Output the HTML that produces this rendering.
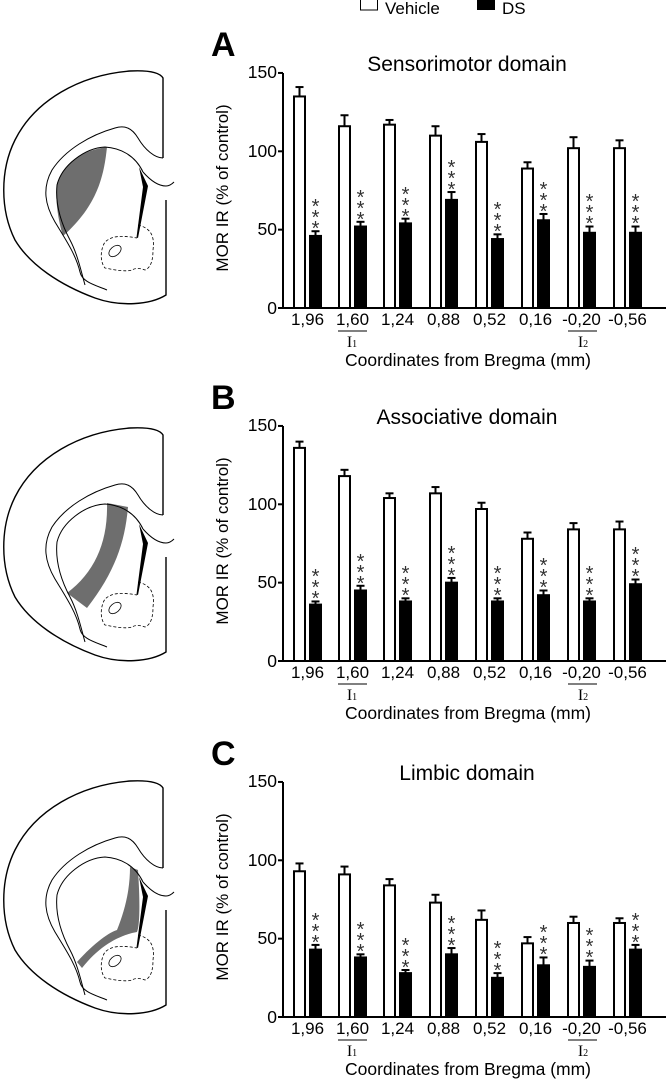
<!DOCTYPE html>
<html><head><meta charset="utf-8"><style>
html,body{margin:0;padding:0;background:#fff}
svg{display:block}
text{font-family:"Liberation Sans",Arial,sans-serif;fill:#000}
.t{font-size:17.5px;text-anchor:end}
.x{font-size:17px;text-anchor:middle}
.ti{font-size:21px;text-anchor:middle}
.L{font-size:34px;font-weight:bold}
.s{font-size:20px;text-anchor:middle;fill:#333}
.r{font-family:"Liberation Serif",serif;font-size:16px;text-anchor:middle}
.c{font-size:17.5px;text-anchor:middle}
</style></head><body>
<svg id="g" width="666" height="1079" viewBox="0 0 666 1079" xmlns="http://www.w3.org/2000/svg">
<defs>
<g id="brain" fill="none" stroke="#000">
<path stroke-width="1.4" d="M166,200 L166,295 C150,305 120,307 95,298 C60,285 30,265 15,240 C0,210 0,170 15,140 C35,100 80,75 130,71 C150,70 160,73 163,78 L163,158"/>
<path stroke-width="1" d="M163,158 C155,158 145,150 138,138 C132,128 125,125 115,128 C90,135 65,150 52,170 C42,188 45,205 55,222 C66,240 76,255 80,272 C82,282 95,285 107,290"/>
<path stroke-width="1" d="M143,172 C150,180 158,186 166,186 C169,186 172,184 174,182"/>
<path stroke-width="1" d="M143,172 C135,155 120,148 105,147 C85,148 62,165 57,185 C55,205 62,225 70,240 C78,255 82,275 85,285"/>
<path fill="#000" stroke="none" d="M139,167 L148,186 L138,238 L136.5,237.5 L143,187 Z"/>
<path stroke-width="0.8" stroke-dasharray="3,2" d="M138,225 C150,228 155,235 153,250 C153,262 150,268 145,270 C140,268 135,268 132,270 C125,272 115,270 105,268 C100,262 100,250 105,242 C112,236 120,235 137,238"/>
<ellipse cx="115" cy="251" rx="7" ry="4.5" stroke-width="0.8" transform="rotate(-40 115 251)"/>
</g>
</defs>
<g><path fill="#6e6e6e" d="M57,183 C65,160 85,150 107,147 C104,175 98,205 63,236 C58,220 55,200 57,183 Z"/><use href="#brain"/></g>
<g transform="translate(0,357)"><path fill="#6e6e6e" d="M107,146 L128,150 C125,185 115,215 87,251 L67,236 C95,215 108,185 107,146 Z"/><use href="#brain"/></g>
<g transform="translate(0,710)"><path fill="#6e6e6e" d="M130,157 L138,160 C140,190 140,215 137,222 C120,225 100,235 82,258 L77,252 C95,232 110,222 117,220 C125,200 130,180 130,157 Z"/><use href="#brain"/></g>

<rect x="360.5" y="-1" width="17" height="11" fill="#fff" stroke="#000" stroke-width="1"/>
<text x="385" y="14" style="font-size:17px">Vehicle</text>
<rect x="477" y="0" width="18" height="10" fill="#000"/>
<text x="502" y="14" style="font-size:17px">DS</text>

<g id="bars"></g>

<text class="L" x="211" y="56">A</text>
<text class="ti" x="467" y="71">Sensorimotor domain</text>
<text class="t" x="277" y="78">150</text><text class="t" x="277" y="157">100</text><text class="t" x="277" y="235">50</text><text class="t" x="277" y="314">0</text>
<text style="font-size:17px" text-anchor="middle" transform="translate(228,188) rotate(-90)">MOR IR (% of control)</text>
<g><text class="x" x="307.5" y="325">1,96</text><text class="x" x="352.5" y="325">1,60</text><text class="x" x="397.5" y="325">1,24</text><text class="x" x="443.5" y="325">0,88</text><text class="x" x="489.5" y="325">0,52</text><text class="x" x="535.5" y="325">0,16</text><text class="x" x="581.5" y="325">-0,20</text><text class="x" x="627.5" y="325">-0,56</text></g>
<text class="r" x="352" y="347">I<tspan font-size="10">1</tspan></text><text class="r" x="583" y="347">I<tspan font-size="10">2</tspan></text>
<text class="c" x="468" y="366">Coordinates from Bregma (mm)</text>
<g transform="translate(0,4)">
<text class="s" x="315.5" y="231">*</text><text class="s" x="315.5" y="220">*</text><text class="s" x="315.5" y="209">*</text>
<text class="s" x="360.5" y="222">*</text><text class="s" x="360.5" y="211">*</text><text class="s" x="360.5" y="200">*</text>
<text class="s" x="405.5" y="219">*</text><text class="s" x="405.5" y="208">*</text><text class="s" x="405.5" y="197">*</text>
<text class="s" x="451.5" y="192">*</text><text class="s" x="451.5" y="181">*</text><text class="s" x="451.5" y="170">*</text>
<text class="s" x="497.5" y="234">*</text><text class="s" x="497.5" y="223">*</text><text class="s" x="497.5" y="212">*</text>
<text class="s" x="543.5" y="214">*</text><text class="s" x="543.5" y="203">*</text><text class="s" x="543.5" y="192">*</text>
<text class="s" x="589.5" y="226">*</text><text class="s" x="589.5" y="215">*</text><text class="s" x="589.5" y="204">*</text>
<text class="s" x="635.5" y="226">*</text><text class="s" x="635.5" y="215">*</text><text class="s" x="635.5" y="204">*</text>
</g>

<text class="L" x="211" y="409">B</text>
<text class="ti" x="467" y="424">Associative domain</text>
<text class="t" x="277" y="431">150</text><text class="t" x="277" y="510">100</text><text class="t" x="277" y="588">50</text><text class="t" x="277" y="667">0</text>
<text style="font-size:17px" text-anchor="middle" transform="translate(228,541) rotate(-90)">MOR IR (% of control)</text>
<g><text class="x" x="307.5" y="678">1,96</text><text class="x" x="352.5" y="678">1,60</text><text class="x" x="397.5" y="678">1,24</text><text class="x" x="443.5" y="678">0,88</text><text class="x" x="489.5" y="678">0,52</text><text class="x" x="535.5" y="678">0,16</text><text class="x" x="581.5" y="678">-0,20</text><text class="x" x="627.5" y="678">-0,56</text></g>
<text class="r" x="352" y="700">I<tspan font-size="10">1</tspan></text><text class="r" x="583" y="700">I<tspan font-size="10">2</tspan></text>
<text class="c" x="468" y="719">Coordinates from Bregma (mm)</text>
<g transform="translate(0,4)">
<text class="s" x="315.5" y="601">*</text><text class="s" x="315.5" y="590">*</text><text class="s" x="315.5" y="579">*</text>
<text class="s" x="360.5" y="586">*</text><text class="s" x="360.5" y="575">*</text><text class="s" x="360.5" y="564">*</text>
<text class="s" x="405.5" y="598">*</text><text class="s" x="405.5" y="587">*</text><text class="s" x="405.5" y="576">*</text>
<text class="s" x="451.5" y="578">*</text><text class="s" x="451.5" y="567">*</text><text class="s" x="451.5" y="556">*</text>
<text class="s" x="497.5" y="598">*</text><text class="s" x="497.5" y="587">*</text><text class="s" x="497.5" y="576">*</text>
<text class="s" x="543.5" y="590">*</text><text class="s" x="543.5" y="579">*</text><text class="s" x="543.5" y="568">*</text>
<text class="s" x="589.5" y="598">*</text><text class="s" x="589.5" y="587">*</text><text class="s" x="589.5" y="576">*</text>
<text class="s" x="635.5" y="579">*</text><text class="s" x="635.5" y="568">*</text><text class="s" x="635.5" y="557">*</text>
</g>

<text class="L" x="211" y="765">C</text>
<text class="ti" x="467" y="780">Limbic domain</text>
<text class="t" x="277" y="787">150</text><text class="t" x="277" y="866">100</text><text class="t" x="277" y="944">50</text><text class="t" x="277" y="1023">0</text>
<text style="font-size:17px" text-anchor="middle" transform="translate(228,897) rotate(-90)">MOR IR (% of control)</text>
<g><text class="x" x="307.5" y="1034">1,96</text><text class="x" x="352.5" y="1034">1,60</text><text class="x" x="397.5" y="1034">1,24</text><text class="x" x="443.5" y="1034">0,88</text><text class="x" x="489.5" y="1034">0,52</text><text class="x" x="535.5" y="1034">0,16</text><text class="x" x="581.5" y="1034">-0,20</text><text class="x" x="627.5" y="1034">-0,56</text></g>
<text class="r" x="352" y="1056">I<tspan font-size="10">1</tspan></text><text class="r" x="583" y="1056">I<tspan font-size="10">2</tspan></text>
<text class="c" x="468" y="1075">Coordinates from Bregma (mm)</text>
<g transform="translate(0,4)">
<text class="s" x="315.5" y="945">*</text><text class="s" x="315.5" y="934">*</text><text class="s" x="315.5" y="923">*</text>
<text class="s" x="360.5" y="954">*</text><text class="s" x="360.5" y="943">*</text><text class="s" x="360.5" y="932">*</text>
<text class="s" x="405.5" y="970">*</text><text class="s" x="405.5" y="959">*</text><text class="s" x="405.5" y="948">*</text>
<text class="s" x="451.5" y="948">*</text><text class="s" x="451.5" y="937">*</text><text class="s" x="451.5" y="926">*</text>
<text class="s" x="497.5" y="973">*</text><text class="s" x="497.5" y="962">*</text><text class="s" x="497.5" y="951">*</text>
<text class="s" x="543.5" y="957">*</text><text class="s" x="543.5" y="946">*</text><text class="s" x="543.5" y="935">*</text>
<text class="s" x="589.5" y="960">*</text><text class="s" x="589.5" y="949">*</text><text class="s" x="589.5" y="938">*</text>
<text class="s" x="635.5" y="945">*</text><text class="s" x="635.5" y="934">*</text><text class="s" x="635.5" y="923">*</text>
</g>
</svg>
<script>
(function(){
var NS="http://www.w3.org/2000/svg",g=document.getElementById("bars");
function el(n,a){var e=document.createElementNS(NS,n);for(var k in a)e.setAttribute(k,a[k]);g.appendChild(e);return e;}
var gx=[293,338,383,429,475,521,567,613],s=1.567;
var P=[
{b:308,v:[[135,6],[116,7],[117,3],[110,6],[106,5],[89,4],[102,7],[102,5]],d:[[46,3],[52,3],[54,3],[69,5],[44,3],[56,4],[48,4],[48,4]]},
{b:661,v:[[136,4],[118,4],[104,3],[107,4],[97,4],[78,4],[84,4],[84,5]],d:[[36,2],[45,3],[38,2],[50,3],[38,2],[42,3],[38,2],[49,3]]},
{b:1017,v:[[93,5],[91,5],[84,4],[73,5],[62,6],[47,4],[60,4],[60,3]],d:[[43,3],[38,2],[28,2],[40,4],[25,3],[33,5],[32,4],[43,3]]}];
P.forEach(function(p){
var b=p.b;
el("line",{x1:283,y1:b-235,x2:283,y2:b,stroke:"#000","stroke-width":2});
el("line",{x1:278,y1:b,x2:666,y2:b,stroke:"#000","stroke-width":2});
[0,50,100,150].forEach(function(t){el("line",{x1:278,y1:b-t*s,x2:283,y2:b-t*s,stroke:"#000","stroke-width":2});});
el("line",{x1:338,y1:b+23,x2:367,y2:b+23,stroke:"#000","stroke-width":1});
el("line",{x1:568,y1:b+23,x2:597,y2:b+23,stroke:"#000","stroke-width":1});
for(var i=0;i<8;i++){
 [[p.v[i],gx[i],"#fff"],[p.d[i],gx[i]+16,"#000"]].forEach(function(q){
  var v=q[0][0],e=q[0][1],x=q[1],y=b-v*s,ye=b-(v+e)*s,c=x+6.5;
  el("line",{x1:c,y1:y,x2:c,y2:ye,stroke:"#000","stroke-width":2});
  el("line",{x1:c-4,y1:ye,x2:c+4,y2:ye,stroke:"#000","stroke-width":2});
  el("rect",{x:x+1,y:y,width:11,height:b-y,fill:q[2],stroke:"#000","stroke-width":2});
 });
}
});
})();
</script>
</body></html>
